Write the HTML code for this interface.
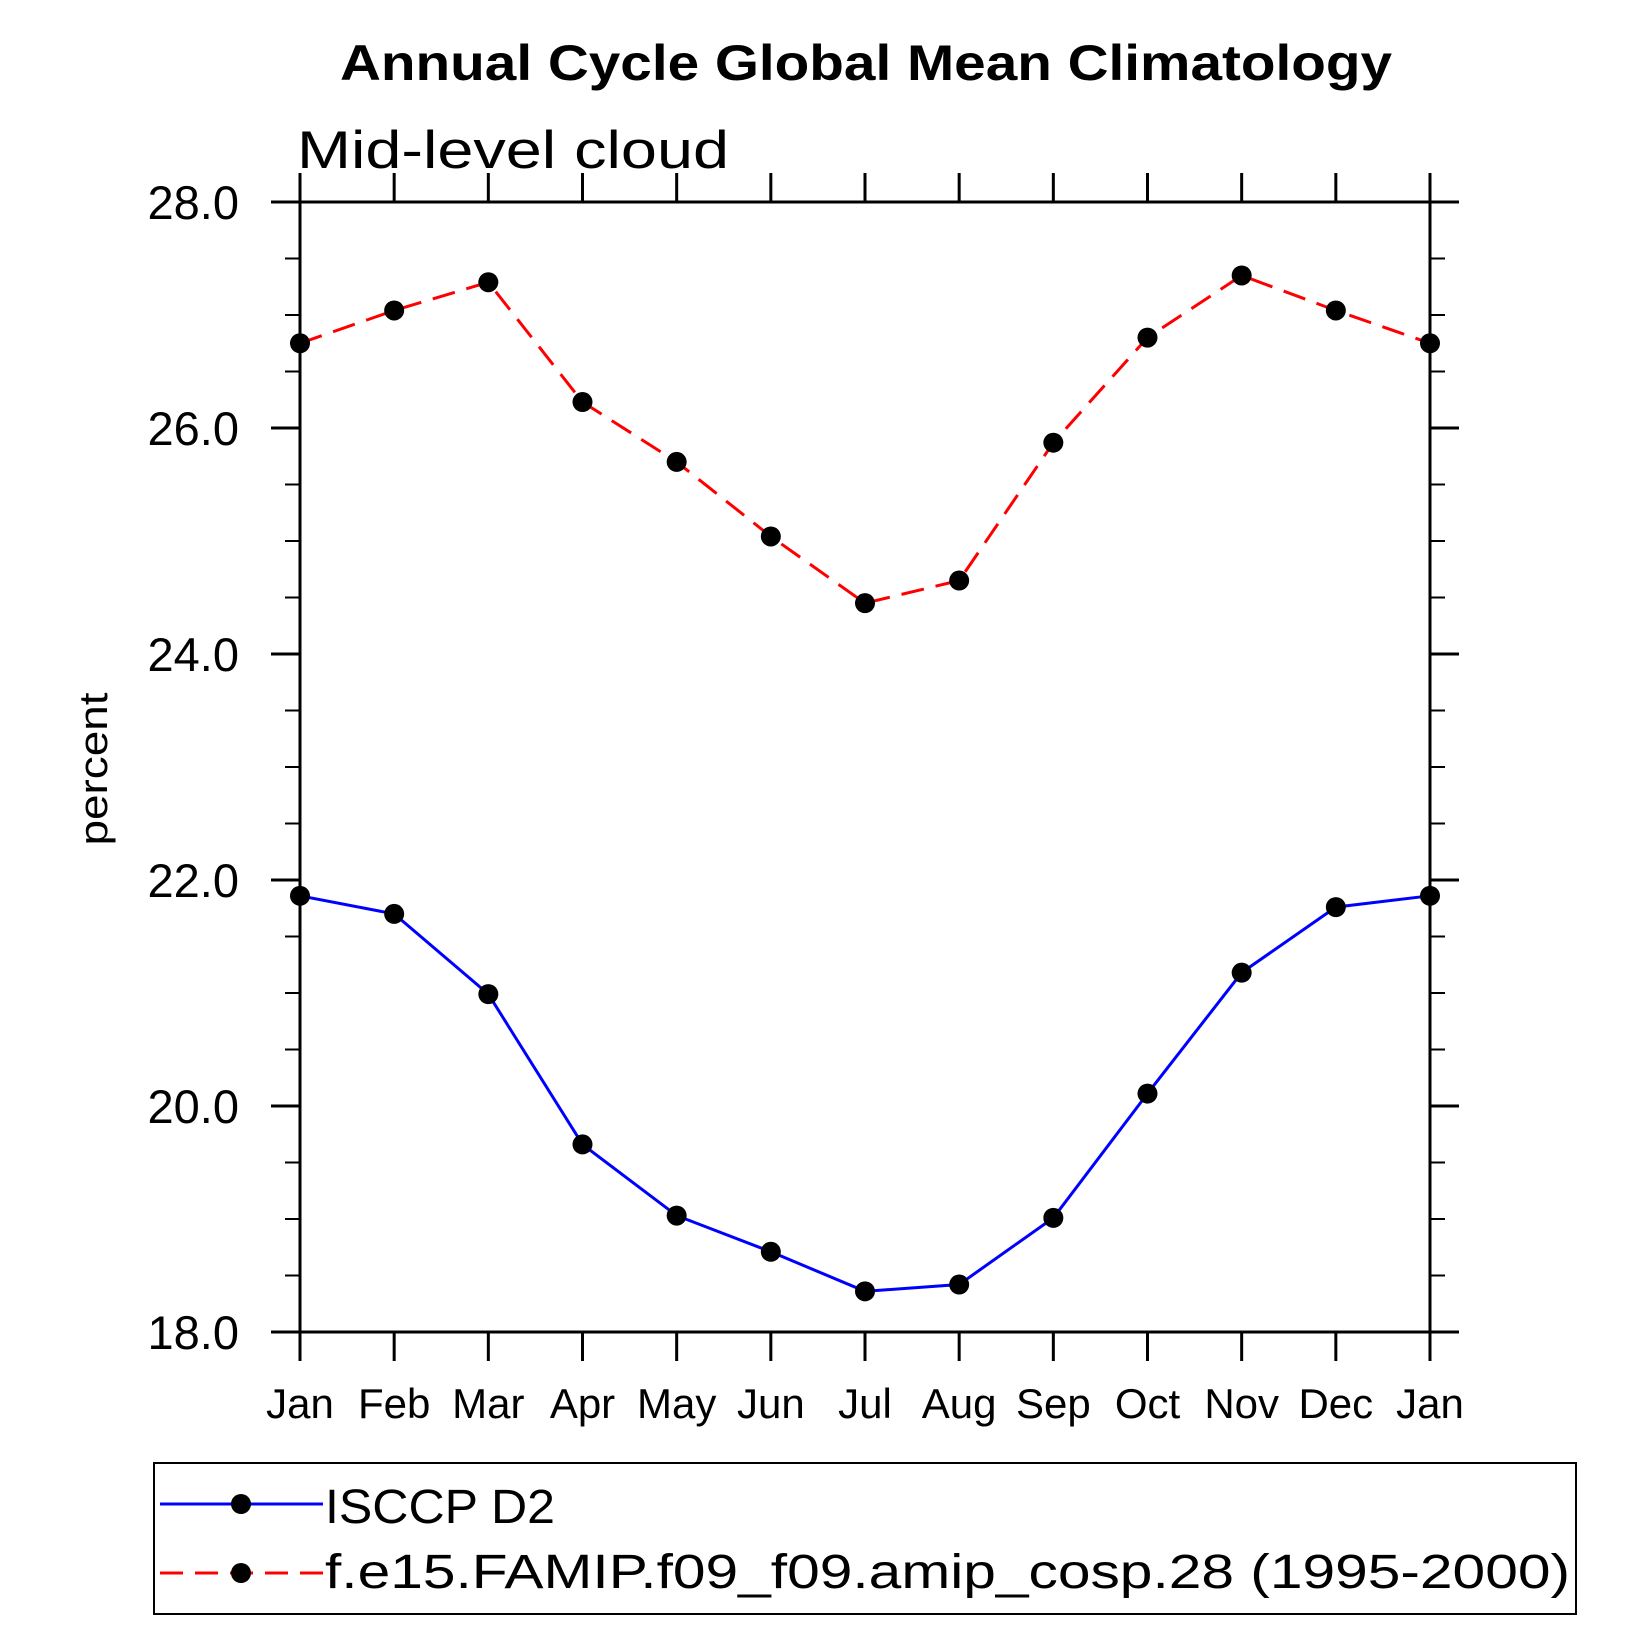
<!DOCTYPE html>
<html><head><meta charset="utf-8"><style>
html,body{margin:0;padding:0;background:#fff}
svg{display:block}
text{font-family:"Liberation Sans",sans-serif}
</style></head><body>
<svg id="chart" width="1652" height="1652" viewBox="0 0 1652 1652" xmlns="http://www.w3.org/2000/svg">
<text x="866" y="80" text-anchor="middle" font-size="50" font-weight="bold" textLength="1052" lengthAdjust="spacingAndGlyphs">Annual Cycle Global Mean Climatology</text>
<text x="297" y="168" font-size="53" textLength="432" lengthAdjust="spacingAndGlyphs">Mid-level cloud</text>
<text transform="translate(107,769) rotate(-90)" text-anchor="middle" font-size="40" textLength="153" lengthAdjust="spacingAndGlyphs">percent</text>
<g id="axes"></g>
<g id="series"></g>
<g>
<rect x="154" y="1463" width="1422" height="151" fill="none" stroke="#000" stroke-width="2"/>
<line x1="160" y1="1504" x2="323" y2="1504" stroke="#0000ff" stroke-width="3"/>
<circle cx="241" cy="1504" r="10"/>
<text x="325" y="1523" font-size="48" textLength="230" lengthAdjust="spacingAndGlyphs">ISCCP D2</text>
<line x1="160" y1="1573" x2="323" y2="1573" stroke="#ff0000" stroke-width="3" stroke-dasharray="23,12"/>
<circle cx="241" cy="1573" r="10"/>
<text x="325" y="1588" font-size="48" textLength="1245" lengthAdjust="spacingAndGlyphs">f.e15.FAMIP.f09_f09.amip_cosp.28 (1995-2000)</text>
</g>
</svg>
<script>
const months = ["Jan","Feb","Mar","Apr","May","Jun","Jul","Aug","Sep","Oct","Nov","Dec","Jan"];
const isccp = [21.86,21.70,20.99,19.66,19.03,18.71,18.36,18.42,19.01,20.11,21.18,21.76,21.86];
const model = [26.75,27.04,27.29,26.23,25.70,25.04,24.45,24.65,25.87,26.80,27.35,27.04,26.75];
const yTicks = [18,20,22,24,26,28];
const yTickLabels = ["18.0","20.0","22.0","24.0","26.0","28.0"];
const yMin = 18, yMax = 28;

const L=300,R=1430,T=202,B=1332;
const NS="http://www.w3.org/2000/svg";
function xs(i){return L+(R-L)*i/(months.length-1);}
function ys(v){return B-(B-T)*(v-yMin)/(yMax-yMin);}
function mk(tag,attrs,parent){const e=document.createElementNS(NS,tag);for(const k in attrs)e.setAttribute(k,attrs[k]);parent.appendChild(e);return e;}
const ax=document.getElementById('axes');
let e=mk('rect',{x:L,y:T,width:R-L,height:B-T,fill:'none',stroke:'#000','stroke-width':3},ax);


months.forEach((m,i)=>{
  const x=xs(i);
  let t=mk('line',{x1:x,y1:B,x2:x,y2:B+29,stroke:'#000','stroke-width':3},ax);
  
  
  t=mk('line',{x1:x,y1:T,x2:x,y2:T-29,stroke:'#000','stroke-width':3},ax);
  
  
  const lb=mk('text',{x:x,y:1418,'text-anchor':'middle','font-size':42},ax);
  lb.textContent=m;
  
  
});
for(let v=yMin;v<=yMax+1e-9;v+=0.5){
  const y=ys(v);const major=Math.abs(v-Math.round(v/2)*2)<1e-9;
  const len=major?29:15;
  let t=mk('line',{x1:L-len,y1:y,x2:L,y2:y,stroke:'#000','stroke-width':major?3:2},ax);
  
  
  t=mk('line',{x1:R,y1:y,x2:R+len,y2:y,stroke:'#000','stroke-width':major?3:2},ax);
  
  
}
yTicks.forEach((v,i)=>{
  const lb=mk('text',{x:239,y:ys(v)+17,'text-anchor':'end','font-size':47},ax);
  lb.textContent=yTickLabels[i];
  
  
});
const sg=document.getElementById('series');
function draw(vals,color,dash,name){
  const pts=vals.map((v,i)=>xs(i)+','+ys(v)).join(' ');
  const a={points:pts,fill:'none',stroke:color,'stroke-width':3};
  if(dash)a['stroke-dasharray']=dash;
  const pl=mk('polyline',a,sg);
  
  
  vals.forEach((v,i)=>{
    const c=mk('circle',{cx:xs(i),cy:ys(v),r:10,fill:'#000'},sg);
    
    
  });
}
draw(model,'#ff0000','23,12','model');
draw(isccp,'#0000ff',null,'isccp');
</script>
</body></html>
